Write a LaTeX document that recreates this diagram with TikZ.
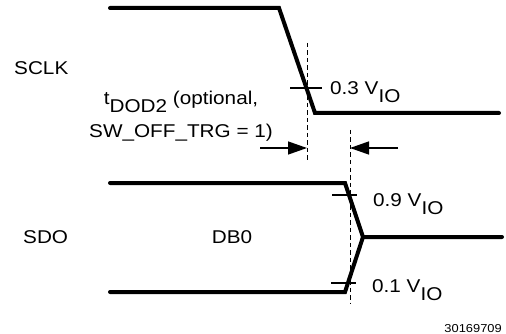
\documentclass[tikz,border=0pt]{standalone}
\usepackage{fontspec}
\setmainfont[FakeStretch=1.12]{Liberation Sans}
\usetikzlibrary{arrows.meta}
\newcommand\lowsub[1]{\raisebox{-8pt}{#1}}
\begin{document}
\begin{tikzpicture}[x=1pt,y=-1pt,
  sig/.style={line width=4pt,line cap=round,line join=miter},
  guide/.style={line width=1pt,dash pattern=on 4.5pt off 3pt},
  tick/.style={line width=1.3pt},
  dimarrow/.style={line width=1.3pt,-{Triangle[length=19pt,width=13pt]}},
  lbl/.style={inner sep=0pt,anchor=base west,font=\fontsize{18.5}{22}\selectfont},
  lblc/.style={inner sep=0pt,anchor=base,font=\fontsize{18.5}{22}\selectfont},
  fig/.style={inner sep=0pt,anchor=base east,font=\fontsize{11.5}{14}\selectfont}]
\useasboundingbox (0,0) rectangle (506,334);
% SCLK waveform
\draw[sig] (110,8) -- (279,8) -- (315,113) -- (499,113);
% SDO waveform
\draw[sig] (110,183) -- (345,183) -- (363,237) -- (502,237);
\draw[sig] (110,292) -- (345,292) -- (363,237);
% dashed guides
\coordinate (g1t) at (307,43); \coordinate (g1b) at (307,163);
\coordinate (g2t) at (350,130); \coordinate (g2b) at (350,303);
\draw[guide] (g1t) -- (g1b);
\draw[guide] (g2t) -- (g2b);
% ticks
\draw[tick] (290,88) -- (322,88);
\draw[tick] (332,195) -- (357,195);
\draw[tick] (331,283) -- (356,283);
% dimension arrows
\coordinate (a1s) at (260,148); \coordinate (a1e) at (307,148);
\coordinate (a2s) at (398,148); \coordinate (a2e) at (350,148);
\draw[dimarrow] (a1s) -- (a1e);
\draw[dimarrow] (a2s) -- (a2e);
% labels
\node[lbl] (sclk) at (14,75) {SCLK};
\node[lbl] (sdo) at (23,243) {SDO};
\node[lblc] (db0) at (232,243) {DB0};
\node[lblc] (t1) at (181,105) {t\lowsub{DOD2} (optional,};
\node[lblc] (t2) at (181,138) {SW\_OFF\_TRG = 1)};
\node[lbl] (v03) at (330,95) {0.3 V\lowsub{IO}};
\node[lbl] (v09) at (373,206) {0.9 V\lowsub{IO}};
\node[lbl] (v01) at (372,292) {0.1 V\lowsub{IO}};
\node[fig] (num) at (502,332) {30169709};
\end{tikzpicture}
\end{document}
